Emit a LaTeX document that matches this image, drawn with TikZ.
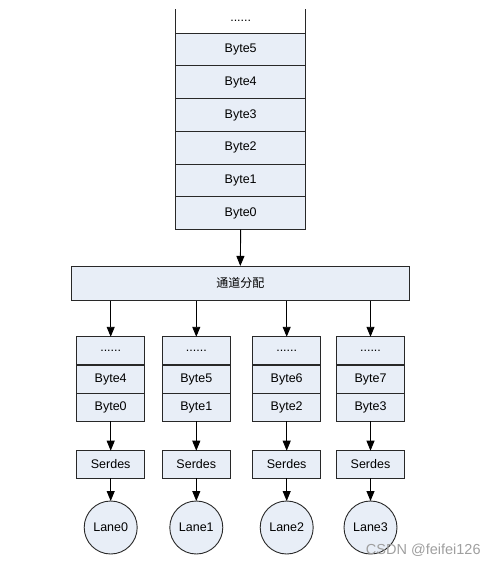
\documentclass[tikz,border=0pt]{standalone}
\usepackage{fontspec}
\setmainfont{Liberation Sans}
\newfontfamily\cjk{Noto Sans CJK SC}
\usetikzlibrary{arrows.meta}
\definecolor{boxfill}{RGB}{232,238,247}
\definecolor{linec}{RGB}{40,40,40}
\tikzset{
  cell/.style={draw=linec, line width=0.9pt, fill=boxfill, inner sep=0pt, outer sep=0pt, font=\fontsize{12.5}{14}\selectfont},
  bigcell/.style={cell, minimum width=130pt, minimum height=32.75pt},
  smallcell/.style={cell, minimum width=68pt, minimum height=28.1pt},
  serdes/.style={cell, minimum width=68pt, minimum height=27.6pt},
  lane/.style={cell, circle, minimum size=53pt},
  arr/.style={draw=black, line width=0.9pt, -{Triangle[length=10pt,width=8pt]}},
}
\begin{document}
\begin{tikzpicture}[x=1pt,y=-1pt]
\useasboundingbox (0,0) rectangle (497,566);
% top stack
\node[inner sep=0pt, outer sep=0pt, minimum width=130pt, minimum height=24pt, font=\fontsize{12.5}{14}\selectfont] (tdots) at (240.7,21) {......};
\node[bigcell] (b5) at (240.7,49.5) {Byte5};
\node[bigcell] (b4) at (240.7,82.25) {Byte4};
\node[bigcell] (b3) at (240.7,115) {Byte3};
\node[bigcell] (b2) at (240.7,147.75) {Byte2};
\node[bigcell] (b1) at (240.7,180.5) {Byte1};
\node[bigcell] (b0) at (240.7,213.25) {Byte0};
\draw[linec, line width=0.9pt] (b5.north west |- tdots.north) -- (b5.north west);
\draw[linec, line width=0.9pt] (b5.north east |- tdots.north) -- (b5.north east);
% allocation
\node[cell, minimum width=337.3pt, minimum height=34.7pt, font=\cjk\fontsize{12}{14}\selectfont] (alloc) at (240.3,283.3) {通道分配};
\draw[arr] (b0.south) -- (alloc.north);
% lanes
\foreach \i/\x/\a/\b in {0/110.7/4/0, 1/196.3/5/1, 2/286.7/6/2, 3/370.5/7/3}{
  \node[smallcell] (d\i) at (\x,350.85) {......};
  \node[smallcell] (hi\i) at (\x,379.1) {Byte\a};
  \node[smallcell] (lo\i) at (\x,407.2) {Byte\b};
  \node[serdes] (s\i) at (\x,464.5) {Serdes};
  \node[lane] (l\i) at (\x,527.5) {Lane\i};
  \draw[arr] (alloc.south -| d\i.north) -- (d\i.north);
  \draw[arr] (lo\i.south) -- (s\i.north);
  \draw[arr] (s\i.south) -- (l\i.north);
}
% watermark
\node[text=gray!75, font=\fontsize{14.5}{16}\selectfont, inner sep=0pt] (wm) at (423.3,550) {CSDN @feifei126};
\end{tikzpicture}
\end{document}
